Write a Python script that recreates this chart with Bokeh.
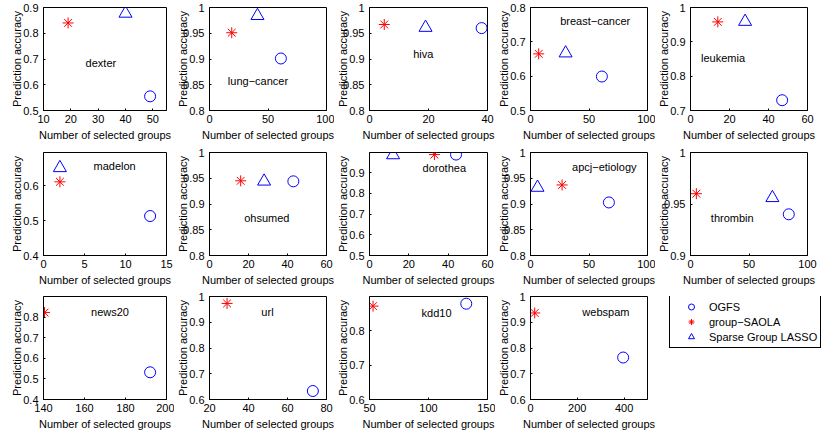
from bokeh.plotting import figure
from bokeh.layouts import row, column
from bokeh.models import FixedTicker, Range1d, Legend, LegendItem
from bokeh.core.properties import value
from bokeh.embed import file_html
from bokeh.resources import INLINE

# ---------------- data ----------------
names = ["dexter", "lung\u2212cancer", "hiva", "breast\u2212cancer", "leukemia",
         "madelon", "ohsumed", "dorothea", "apcj\u2212etiology", "thrombin",
         "news20", "url", "kdd10", "webspam"]
ogfs_x = [49, 61, 38, 61, 47, 13, 43, 44, 67, 84, 192, 73, 132, 396]
ogfs_y = [0.555, 0.901, 0.960, 0.599, 0.730, 0.513, 0.944, 0.987, 0.903, 0.940,
          0.532, 0.633, 0.879, 0.763]
saola_x = [19, 19, 5, 7, 14, 2, 16, 33, 27, 5, 140.5, 29, 53, 18]
saola_y = [0.840, 0.951, 0.967, 0.665, 0.958, 0.611, 0.945, 0.987, 0.937, 0.960,
           0.822, 0.973, 0.872, 0.936]
sgl_x = [40, 41, 19, 30, 28, 2, 28, 12, 6, 70]
sgl_y = [0.877, 0.984, 0.961, 0.667, 0.959, 0.651, 0.944, 0.985, 0.932, 0.956]
label_x = [25.4, 15.7, 14.8, 25.4, 5.4, 6.1, 17.8, 27, 35.5, 17.4, 163.2, 46.6, 94.1, 221.6]
label_y = [0.683, 0.858, 0.91, 0.76, 0.854, 0.656, 0.873, 0.92, 0.971, 0.936,
           0.824, 0.941, 0.851, 0.941]
x_ranges = [(10, 55), (0, 100), (0, 40), (0, 100), (0, 60), (0, 15), (0, 60), (0, 60),
            (0, 100), (0, 100), (140, 200), (20, 80), (50, 150), (0, 500)]
y_ranges = [(0.5, 0.9), (0.8, 1), (0.8, 1), (0.5, 0.8), (0.7, 1), (0.4, 0.695), (0.8, 1),
            (0.5, 0.997), (0.8, 1), (0.9, 1), (0.4, 0.9), (0.6, 1), (0.6, 0.9), (0.6, 1)]
x_ticks = [[10, 20, 30, 40, 50], [0, 50, 100], [0, 20, 40], [0, 50, 100], [0, 20, 40, 60],
           [0, 5, 10, 15], [0, 20, 40, 60], [0, 20, 40, 60], [0, 50, 100], [0, 50, 100],
           [140, 160, 180, 200], [20, 40, 60, 80], [50, 100, 150], [0, 200, 400]]
y_ticks = [[0.5, 0.6, 0.7, 0.8, 0.9], [0.8, 0.85, 0.9, 0.95, 1], [0.8, 0.85, 0.9, 0.95, 1],
           [0.5, 0.6, 0.7, 0.8], [0.7, 0.8, 0.9, 1], [0.4, 0.5, 0.6],
           [0.8, 0.85, 0.9, 0.95, 1], [0.5, 0.6, 0.7, 0.8, 0.9], [0.8, 0.85, 0.9, 0.95, 1],
           [0.9, 0.95, 1], [0.4, 0.5, 0.6, 0.7, 0.8], [0.6, 0.7, 0.8, 0.9, 1],
           [0.6, 0.7, 0.8], [0.6, 0.7, 0.8, 0.9, 1]]
series_names = ["OGFS", "group\u2212SAOLA", "Sparse Group LASSO"]

# ---------------- layout ----------------
FONT = "Liberation Sans"
FS = "11px"
BLUE = "#0000ff"
RED = "#ff0000"
col_w = [174, 160, 161, 160, 166]
col_left = [43, 31, 31, 31, 31]
col_right = [8, 8, 8, 8, 14]
row_h = [145, 145, 144]
row_top = [7, 7, 6]


def fmt(t):
    return "%g" % t


def text_w(s):
    return 1.1 * sum(2.78 if c == "." else 5.56 for c in s)


def style_axis(ax, ticks):
    ax.ticker = FixedTicker(ticks=ticks)
    ax.major_label_overrides = {t: fmt(t) for t in ticks}
    ax.major_tick_in = 2
    ax.major_tick_out = 0
    ax.minor_tick_in = 0
    ax.minor_tick_out = 0
    ax.axis_line_color = "black"
    ax.major_tick_line_color = "black"
    ax.major_label_text_font = FONT
    ax.major_label_text_color = "black"
    ax.major_label_text_font_size = FS
    ax.axis_label_text_font = FONT
    ax.axis_label_text_font_size = FS
    ax.axis_label_text_font_style = "normal"
    ax.axis_label_text_color = "black"


grid = [[None] * 5 for _ in range(3)]
for i, name in enumerate(names):
    r, c = divmod(i, 5)
    p = figure(width=col_w[c], height=row_h[r],
               x_range=Range1d(*x_ranges[i]), y_range=Range1d(*y_ranges[i]),
               min_border_left=col_left[c], min_border_right=col_right[c],
               min_border_top=row_top[r], min_border_bottom=35,
               toolbar_location=None, output_backend="svg")
    p.grid.visible = False
    p.outline_line_color = "black"
    p.outline_line_alpha = 1
    p.background_fill_color = "white"
    p.border_fill_color = "white"

    xa = p.xaxis[0]
    style_axis(xa, x_ticks[i])
    xa.major_label_standoff = 4
    xa.axis_label = "Number of selected groups"
    xa.axis_label_standoff = 3
    ya = p.yaxis[0]
    style_axis(ya, y_ticks[i])
    ya.major_label_standoff = 5
    ya.axis_label = "Prediction accuracy"
    w = max(text_w(fmt(t)) for t in y_ticks[i])
    ya.axis_label_standoff = int(round(12.7 - w))

    p.scatter([ogfs_x[i]], [ogfs_y[i]], marker="circle", size=11,
              line_color=BLUE, fill_color=None, line_width=1)
    p.scatter([saola_x[i]], [saola_y[i]], marker="asterisk", size=11,
              line_color=RED, line_width=1)
    if i < len(sgl_x):
        p.scatter([sgl_x[i]], [sgl_y[i]], marker="triangle", size=13,
                  line_color=BLUE, fill_color=None, line_width=1)
    p.text(x=[label_x[i]], y=[label_y[i]], text=[name],
           text_font=value(FONT), text_font_size=FS, text_color="black",
           text_align="left", text_baseline="middle")
    grid[r][c] = p

# legend panel: its frame covers its whole canvas
nan = float("nan")
lp = figure(width=col_w[4], height=row_h[2], x_range=Range1d(0, 1), y_range=Range1d(0, 1),
            min_border_left=0, min_border_right=0, min_border_top=0, min_border_bottom=0,
            x_axis_location=None, y_axis_location=None,
            toolbar_location=None, output_backend="svg")
lp.grid.visible = False
lp.outline_line_color = None
r1 = lp.scatter(x=[nan], y=[nan], marker="circle", size=11, line_color=BLUE, fill_color=None)
r2 = lp.scatter(x=[nan], y=[nan], marker="asterisk", size=11, line_color=RED)
r3 = lp.scatter(x=[nan], y=[nan], marker="triangle", size=13, line_color=BLUE, fill_color=None)
leg = Legend(items=[LegendItem(label=series_names[0], renderers=[r1]),
                    LegendItem(label=series_names[1], renderers=[r2]),
                    LegendItem(label=series_names[2], renderers=[r3])],
             location=(14, 51), margin=0, padding=3, spacing=0,
             label_height=15, glyph_height=15, glyph_width=36, label_standoff=0,
             label_text_font=FONT, label_text_font_size=FS, label_text_color="black",
             border_line_color="black", border_line_width=1, border_line_alpha=1,
             background_fill_color="white", background_fill_alpha=1)
lp.add_layout(leg, "center")
grid[2][4] = lp

layout = column(row(*grid[0]), row(*grid[1]), row(*grid[2]))
open("out.html", "w").write(file_html(layout, INLINE))
